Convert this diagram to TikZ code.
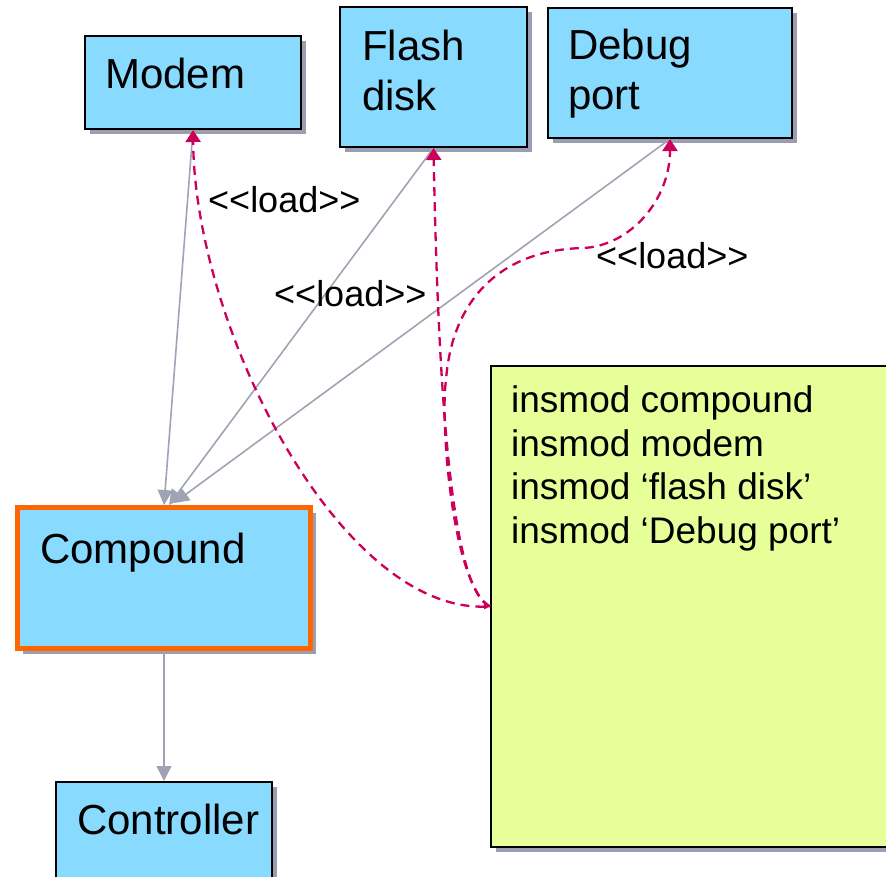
\documentclass[tikz,border=0pt]{standalone}
\usepackage{fontspec}
\newfontfamily\af{Liberation Sans}
\usetikzlibrary{arrows.meta,shadows}
\definecolor{boxblue}{RGB}{136,219,255}
\definecolor{notegreen}{RGB}{230,255,153}
\definecolor{edgeorange}{RGB}{255,102,0}
\definecolor{loadred}{RGB}{204,0,90}
\definecolor{linegray}{RGB}{160,163,180}
\definecolor{shadowgray}{RGB}{155,158,176}
\begin{document}
\begin{tikzpicture}[x=1pt,y=-1pt,font=\af,
  shad/.style={drop shadow={shadow xshift=5pt,shadow yshift=-5pt,opacity=1,fill=shadowgray}},
  box/.style={draw=black,line width=2pt,fill=boxblue,shad,inner sep=0pt,anchor=north west},
  boxtext/.style={font=\af\fontsize{42}{50}\selectfont,align=left,anchor=base west,inner sep=0pt,text=black},
  notetext/.style={font=\af\fontsize{37}{43.5}\selectfont,align=left,anchor=base west,inner sep=0pt,text=black},
  loadlabel/.style={font=\af\fontsize{36}{40}\selectfont,anchor=base west,inner sep=0pt},
  dep/.style={draw=linegray,line width=1.6pt,-{Triangle[length=15pt,width=15pt]}},
  load/.style={draw=loadred,line width=2.3pt,dash pattern=on 9pt off 6pt,-{Triangle[length=12pt,width=15pt]}}
]
\useasboundingbox (0,0) rectangle (886,876);

\node[box,minimum width=216pt,minimum height=93pt,
  label={[boxtext,xshift=21pt,yshift=-53pt]north west:Modem}] (Modem) at (84,35) {};
\node[box,minimum width=187pt,minimum height=140pt,
  label={[boxtext,xshift=23pt,yshift=-104pt]north west:Flash\\disk}] (Flash) at (339,6) {};
\node[box,minimum width=244pt,minimum height=130pt,
  label={[boxtext,xshift=21pt,yshift=-102pt]north west:Debug\\port}] (Debug) at (547,7) {};
\node[box,draw=edgeorange,line width=5pt,minimum width=293pt,minimum height=141pt,
  label={[boxtext,xshift=25pt,yshift=-58pt]north west:Compound}] (Compound) at (15,505) {};
\node[box,minimum width=216pt,minimum height=120pt,
  label={[boxtext,xshift=22pt,yshift=-53pt]north west:Controller}] (Controller) at (55,781) {};
\node[box,fill=notegreen,minimum width=420pt,minimum height=481pt,
  label={[notetext,xshift=21pt,yshift=-178pt]north west:insmod compound\\insmod modem\\insmod ‘flash disk’\\insmod ‘Debug port’}] (Note) at (490,365) {};

% dependency arrows
\draw[dep] (Modem.south) -- (Compound.north);
\draw[dep] (Flash.south) -- ([xshift=5pt]Compound.north);
\draw[dep] (Debug.south) -- ([xshift=10pt,yshift=2pt]Compound.north);
\draw[dep] (Compound.south) -- (Controller.north);

% load arrows
\draw[load,{Triangle[length=6pt,width=5pt]}-{Triangle[length=12pt,width=15pt]}]
  (Note.west) .. controls (340,610) and (195,330) .. (Modem.south);
\draw[load] (Note.west) .. controls (450,590) and (438,380) .. (Flash.south);
\draw[load] (Note.west) .. controls (452,585) and (440,420) .. (446,380)
  .. controls (452,300) and (500,250) .. (583,248)
  .. controls (630,246) and (670,200) .. (Debug.south);

\node[loadlabel] (L1) at (208,212) {<<load>>};
\node[loadlabel] (L2) at (274,306) {<<load>>};
\node[loadlabel] (L3) at (596,268) {<<load>>};
\end{tikzpicture}
\end{document}
